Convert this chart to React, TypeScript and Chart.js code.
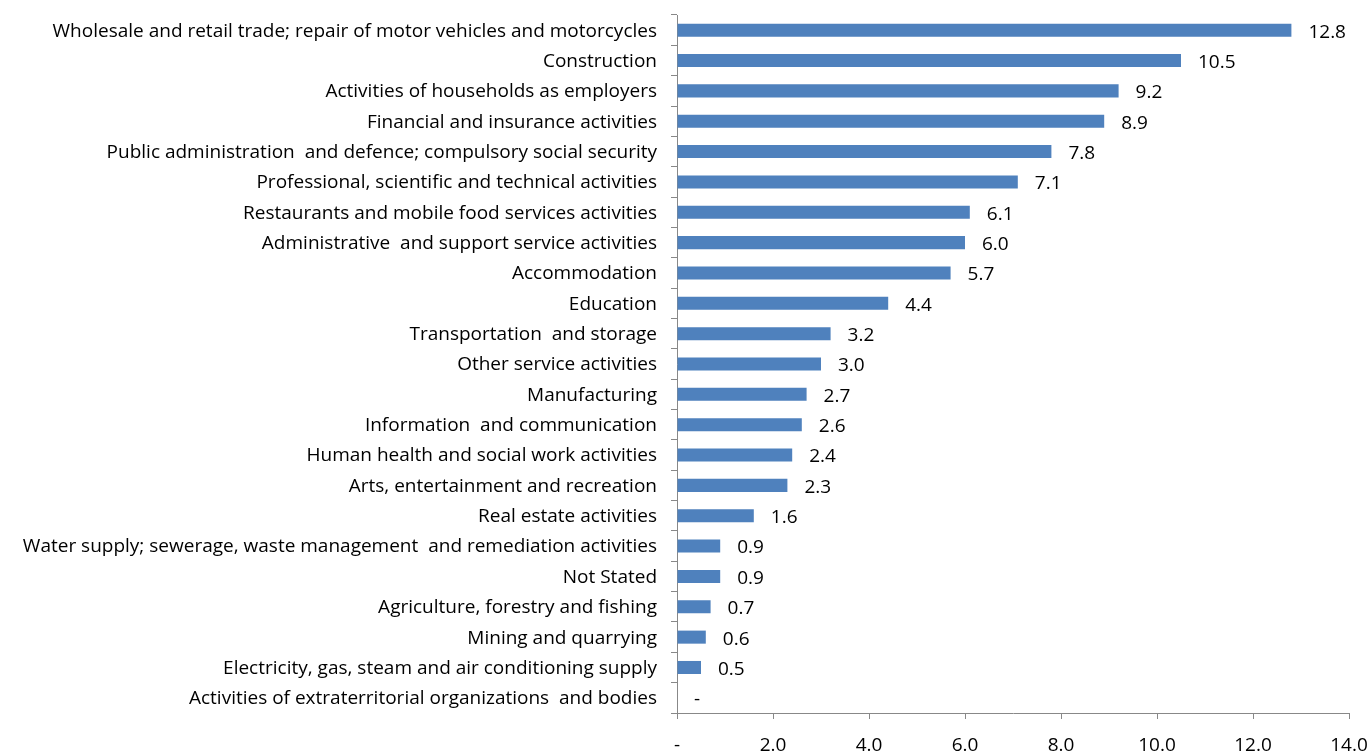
import React, { useEffect, useRef } from "react";
import { Chart, registerables } from "chart.js";

Chart.register(...registerables);

const categories: string[] = [
  "Wholesale and retail trade; repair of motor vehicles and motorcycles",
  "Construction",
  "Activities of households as employers",
  "Financial and insurance activities",
  "Public administration  and defence; compulsory social security",
  "Professional, scientific and technical activities",
  "Restaurants and mobile food services activities",
  "Administrative  and support service activities",
  "Accommodation",
  "Education",
  "Transportation  and storage",
  "Other service activities",
  "Manufacturing",
  "Information  and communication",
  "Human health and social work activities",
  "Arts, entertainment and recreation",
  "Real estate activities",
  "Water supply; sewerage, waste management  and remediation activities",
  "Not Stated",
  "Agriculture, forestry and fishing",
  "Mining and quarrying",
  "Electricity, gas, steam and air conditioning supply",
  "Activities of extraterritorial organizations  and bodies",
];

const values: number[] = [
  12.8, 10.5, 9.2, 8.9, 7.8, 7.1, 6.1, 6.0, 5.7, 4.4, 3.2, 3.0, 2.7, 2.6, 2.4,
  2.3, 1.6, 0.9, 0.9, 0.7, 0.6, 0.5, 0,
];

const xTickMin = 0;
const xTickMax = 14;
const xTickStep = 2;

const FONT_FAMILY = "'Open Sans', sans-serif";
const FONT_SIZE = 19;

const fmt = (v: number) => (v === 0 ? "-" : v.toFixed(1));

const valueLabels = {
  id: "valueLabels",
  afterDatasetsDraw(chart: any) {
    const ctx = chart.ctx;
    const meta = chart.getDatasetMeta(0);
    ctx.save();
    ctx.font = `${FONT_SIZE}px ${FONT_FAMILY}`;
    ctx.fillStyle = "#000";
    ctx.textAlign = "left";
    ctx.textBaseline = "middle";
    meta.data.forEach((bar: any, i: number) => {
      const v = values[i];
      ctx.fillText(fmt(v), bar.x + 17, bar.y + 2);
    });
    ctx.restore();
  },
};

export default function App() {
  const ref = useRef<HTMLCanvasElement | null>(null);

  useEffect(() => {
    document.body.style.margin = "0";
    if (!ref.current) return;
    const chart = new Chart(ref.current, {
      type: "bar",
      data: {
        labels: categories,
        datasets: [
          {
            data: values,
            backgroundColor: "#4F81BD",
            borderWidth: 0,
            categoryPercentage: 0.86,
            barPercentage: 0.5,
          },
        ],
      },
      options: {
        indexAxis: "y",
        animation: false,
        responsive: false,
        maintainAspectRatio: false,
        layout: { padding: { top: 15, right: 21, left: 0, bottom: 0 } },
        plugins: {
          legend: { display: false },
          tooltip: { enabled: false },
        },
        scales: {
          x: {
            min: xTickMin,
            max: xTickMax,
            ticks: {
              stepSize: xTickStep,
              color: "#000",
              font: { family: FONT_FAMILY, size: FONT_SIZE },
              padding: 15,
              maxRotation: 0,
              callback: (v: any) => fmt(Number(v)),
            },
            grid: {
              drawOnChartArea: false,
              drawTicks: true,
              tickLength: 6,
              color: "#888",
            },
            border: { color: "#888", width: 1 },
            afterFit: (scale: any) => {
              scale.height = 38;
              scale.paddingLeft = 0;
              scale.paddingRight = 0;
            },
          },
          y: {
            ticks: {
              color: "#000",
              font: { family: FONT_FAMILY, size: FONT_SIZE },
              padding: 14,
              autoSkip: false,
              labelOffset: 1,
            },
            grid: {
              drawOnChartArea: false,
              drawTicks: true,
              tickLength: 6,
              color: "#888",
              offset: true,
            },
            border: { color: "#888", width: 1 },
            afterFit: (scale: any) => {
              scale.width = 677;
              scale.paddingTop = 0;
              scale.paddingBottom = 0;
            },
          },
        },
      },
      plugins: [valueLabels],
    });
    return () => chart.destroy();
  }, []);

  return (
    <div style={{ width: 1370, height: 751 }}>
      <canvas ref={ref} width={1370} height={751} style={{ display: "block" }} />
    </div>
  );
}
